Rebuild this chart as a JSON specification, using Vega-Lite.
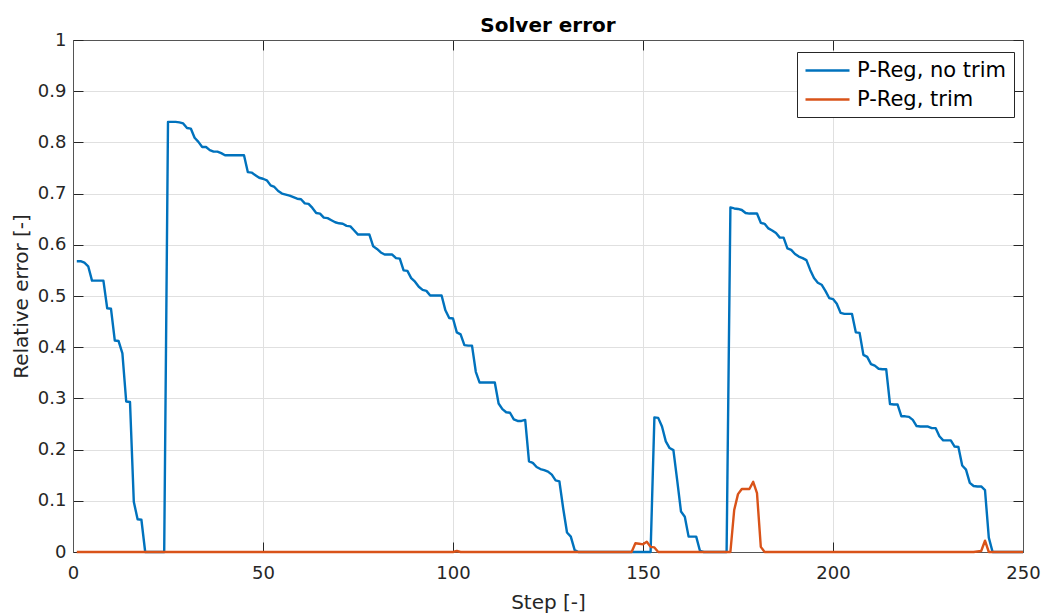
{
  "$schema": "https://vega.github.io/schema/vega-lite/v6.json",
  "width": 950,
  "height": 512,
  "autosize": "none",
  "padding": {"left": 73, "top": 40, "right": 18, "bottom": 61},
  "background": "white",
  "title": {
    "text": "Solver error",
    "font": "DejaVu Sans",
    "fontSize": 20,
    "fontWeight": "bold",
    "color": "#000000",
    "anchor": "middle",
    "frame": "group",
    "baseline": "alphabetic",
    "offset": 9,
    "dy": 30
  },
  "config": {
    "view": {"stroke": null},
    "axis": {
      "labelFont": "DejaVu Sans",
      "labelFontSize": 18,
      "labelColor": "#262626",
      "labelFlush": false,
      "titleFont": "DejaVu Sans",
      "titleFontSize": 20,
      "titleFontWeight": "normal",
      "titleColor": "#262626",
      "domainColor": "#555555",
      "domainWidth": 1,
      "tickColor": "#262626",
      "tickWidth": 1,
      "tickSize": -10,
      "gridColor": "#e0e0e0",
      "gridWidth": 1
    },
    "legend": {
      "orient": "none",
      "legendX": 724,
      "legendY": 12,
      "fillColor": "white",
      "strokeColor": "#262626",
      "padding": 7,
      "cornerRadius": 0,
      "symbolType": "M-1,0H3.4",
      "symbolSize": 400,
      "symbolStrokeWidth": 2.4,
      "labelFont": "DejaVu Sans",
      "labelFontSize": 21,
      "labelColor": "#000000",
      "labelOffset": 30,
      "rowPadding": 7,
      "labelLimit": 400
    }
  },
  "datasets": {
    "noTrim": [
      {"step": 1, "error": 0.568}, {"step": 2, "error": 0.568}, {"step": 3, "error": 0.565}, {"step": 4, "error": 0.558}, {"step": 5, "error": 0.53},
      {"step": 6, "error": 0.53}, {"step": 7, "error": 0.53}, {"step": 8, "error": 0.53}, {"step": 9, "error": 0.476}, {"step": 10, "error": 0.475},
      {"step": 11, "error": 0.413}, {"step": 12, "error": 0.412}, {"step": 13, "error": 0.388}, {"step": 14, "error": 0.294}, {"step": 15, "error": 0.293},
      {"step": 16, "error": 0.098}, {"step": 17, "error": 0.064}, {"step": 18, "error": 0.063}, {"step": 19, "error": 0}, {"step": 20, "error": 0},
      {"step": 21, "error": 0}, {"step": 22, "error": 0}, {"step": 23, "error": 0}, {"step": 24, "error": 0}, {"step": 25, "error": 0.84},
      {"step": 26, "error": 0.84}, {"step": 27, "error": 0.84}, {"step": 28, "error": 0.839}, {"step": 29, "error": 0.837}, {"step": 30, "error": 0.828},
      {"step": 31, "error": 0.827}, {"step": 32, "error": 0.809}, {"step": 33, "error": 0.801}, {"step": 34, "error": 0.791}, {"step": 35, "error": 0.791},
      {"step": 36, "error": 0.785}, {"step": 37, "error": 0.782}, {"step": 38, "error": 0.782}, {"step": 39, "error": 0.779}, {"step": 40, "error": 0.775},
      {"step": 41, "error": 0.775}, {"step": 42, "error": 0.775}, {"step": 43, "error": 0.775}, {"step": 44, "error": 0.775}, {"step": 45, "error": 0.775},
      {"step": 46, "error": 0.742}, {"step": 47, "error": 0.741}, {"step": 48, "error": 0.736}, {"step": 49, "error": 0.731}, {"step": 50, "error": 0.729},
      {"step": 51, "error": 0.726}, {"step": 52, "error": 0.716}, {"step": 53, "error": 0.713}, {"step": 54, "error": 0.705}, {"step": 55, "error": 0.7},
      {"step": 56, "error": 0.698}, {"step": 57, "error": 0.696}, {"step": 58, "error": 0.693}, {"step": 59, "error": 0.69}, {"step": 60, "error": 0.689},
      {"step": 61, "error": 0.681}, {"step": 62, "error": 0.68}, {"step": 63, "error": 0.672}, {"step": 64, "error": 0.662}, {"step": 65, "error": 0.661},
      {"step": 66, "error": 0.653}, {"step": 67, "error": 0.652}, {"step": 68, "error": 0.648}, {"step": 69, "error": 0.644}, {"step": 70, "error": 0.642},
      {"step": 71, "error": 0.641}, {"step": 72, "error": 0.637}, {"step": 73, "error": 0.636}, {"step": 74, "error": 0.628}, {"step": 75, "error": 0.62},
      {"step": 76, "error": 0.62}, {"step": 77, "error": 0.62}, {"step": 78, "error": 0.62}, {"step": 79, "error": 0.597}, {"step": 80, "error": 0.592},
      {"step": 81, "error": 0.585}, {"step": 82, "error": 0.581}, {"step": 83, "error": 0.581}, {"step": 84, "error": 0.581}, {"step": 85, "error": 0.574},
      {"step": 86, "error": 0.573}, {"step": 87, "error": 0.55}, {"step": 88, "error": 0.549}, {"step": 89, "error": 0.535}, {"step": 90, "error": 0.528},
      {"step": 91, "error": 0.518}, {"step": 92, "error": 0.512}, {"step": 93, "error": 0.51}, {"step": 94, "error": 0.501}, {"step": 95, "error": 0.501},
      {"step": 96, "error": 0.501}, {"step": 97, "error": 0.501}, {"step": 98, "error": 0.472}, {"step": 99, "error": 0.457}, {"step": 100, "error": 0.456},
      {"step": 101, "error": 0.429}, {"step": 102, "error": 0.425}, {"step": 103, "error": 0.404}, {"step": 104, "error": 0.403}, {"step": 105, "error": 0.403},
      {"step": 106, "error": 0.352}, {"step": 107, "error": 0.331}, {"step": 108, "error": 0.331}, {"step": 109, "error": 0.331}, {"step": 110, "error": 0.331},
      {"step": 111, "error": 0.331}, {"step": 112, "error": 0.29}, {"step": 113, "error": 0.279}, {"step": 114, "error": 0.273}, {"step": 115, "error": 0.272},
      {"step": 116, "error": 0.259}, {"step": 117, "error": 0.256}, {"step": 118, "error": 0.256}, {"step": 119, "error": 0.258}, {"step": 120, "error": 0.177},
      {"step": 121, "error": 0.174}, {"step": 122, "error": 0.166}, {"step": 123, "error": 0.162}, {"step": 124, "error": 0.16}, {"step": 125, "error": 0.157},
      {"step": 126, "error": 0.151}, {"step": 127, "error": 0.14}, {"step": 128, "error": 0.138}, {"step": 129, "error": 0.085}, {"step": 130, "error": 0.038},
      {"step": 131, "error": 0.03}, {"step": 132, "error": 0.004}, {"step": 133, "error": 0}, {"step": 134, "error": 0}, {"step": 135, "error": 0},
      {"step": 136, "error": 0}, {"step": 137, "error": 0}, {"step": 138, "error": 0}, {"step": 139, "error": 0}, {"step": 140, "error": 0},
      {"step": 141, "error": 0}, {"step": 142, "error": 0}, {"step": 143, "error": 0}, {"step": 144, "error": 0}, {"step": 145, "error": 0},
      {"step": 146, "error": 0}, {"step": 147, "error": 0}, {"step": 148, "error": 0}, {"step": 149, "error": 0}, {"step": 150, "error": 0},
      {"step": 151, "error": 0}, {"step": 152, "error": 0}, {"step": 153, "error": 0.263}, {"step": 154, "error": 0.262}, {"step": 155, "error": 0.245},
      {"step": 156, "error": 0.216}, {"step": 157, "error": 0.203}, {"step": 158, "error": 0.199}, {"step": 159, "error": 0.14}, {"step": 160, "error": 0.079},
      {"step": 161, "error": 0.069}, {"step": 162, "error": 0.03}, {"step": 163, "error": 0.03}, {"step": 164, "error": 0.03}, {"step": 165, "error": 0.002},
      {"step": 166, "error": 0}, {"step": 167, "error": 0}, {"step": 168, "error": 0}, {"step": 169, "error": 0}, {"step": 170, "error": 0},
      {"step": 171, "error": 0}, {"step": 172, "error": 0}, {"step": 173, "error": 0.673}, {"step": 174, "error": 0.671}, {"step": 175, "error": 0.67},
      {"step": 176, "error": 0.668}, {"step": 177, "error": 0.662}, {"step": 178, "error": 0.661}, {"step": 179, "error": 0.661}, {"step": 180, "error": 0.661},
      {"step": 181, "error": 0.643}, {"step": 182, "error": 0.641}, {"step": 183, "error": 0.632}, {"step": 184, "error": 0.628}, {"step": 185, "error": 0.623},
      {"step": 186, "error": 0.614}, {"step": 187, "error": 0.614}, {"step": 188, "error": 0.593}, {"step": 189, "error": 0.59}, {"step": 190, "error": 0.582},
      {"step": 191, "error": 0.577}, {"step": 192, "error": 0.574}, {"step": 193, "error": 0.57}, {"step": 194, "error": 0.551}, {"step": 195, "error": 0.535},
      {"step": 196, "error": 0.526}, {"step": 197, "error": 0.522}, {"step": 198, "error": 0.51}, {"step": 199, "error": 0.496}, {"step": 200, "error": 0.494},
      {"step": 201, "error": 0.485}, {"step": 202, "error": 0.467}, {"step": 203, "error": 0.465}, {"step": 204, "error": 0.465}, {"step": 205, "error": 0.465},
      {"step": 206, "error": 0.429}, {"step": 207, "error": 0.428}, {"step": 208, "error": 0.385}, {"step": 209, "error": 0.381}, {"step": 210, "error": 0.367},
      {"step": 211, "error": 0.364}, {"step": 212, "error": 0.358}, {"step": 213, "error": 0.357}, {"step": 214, "error": 0.357}, {"step": 215, "error": 0.289},
      {"step": 216, "error": 0.288}, {"step": 217, "error": 0.288}, {"step": 218, "error": 0.265}, {"step": 219, "error": 0.265}, {"step": 220, "error": 0.264},
      {"step": 221, "error": 0.258}, {"step": 222, "error": 0.246}, {"step": 223, "error": 0.245}, {"step": 224, "error": 0.245}, {"step": 225, "error": 0.245},
      {"step": 226, "error": 0.242}, {"step": 227, "error": 0.242}, {"step": 228, "error": 0.226}, {"step": 229, "error": 0.218}, {"step": 230, "error": 0.218},
      {"step": 231, "error": 0.218}, {"step": 232, "error": 0.206}, {"step": 233, "error": 0.205}, {"step": 234, "error": 0.169}, {"step": 235, "error": 0.161},
      {"step": 236, "error": 0.135}, {"step": 237, "error": 0.129}, {"step": 238, "error": 0.128}, {"step": 239, "error": 0.128}, {"step": 240, "error": 0.121},
      {"step": 241, "error": 0.028}, {"step": 242, "error": 0}, {"step": 243, "error": 0}, {"step": 244, "error": 0}, {"step": 245, "error": 0},
      {"step": 246, "error": 0}, {"step": 247, "error": 0}, {"step": 248, "error": 0}, {"step": 249, "error": 0}, {"step": 250, "error": 0}
    ],
    "trim": [
      {"step": 1, "error": 0}, {"step": 2, "error": 0}, {"step": 3, "error": 0}, {"step": 4, "error": 0}, {"step": 5, "error": 0},
      {"step": 6, "error": 0}, {"step": 7, "error": 0}, {"step": 8, "error": 0}, {"step": 9, "error": 0}, {"step": 10, "error": 0},
      {"step": 11, "error": 0}, {"step": 12, "error": 0}, {"step": 13, "error": 0}, {"step": 14, "error": 0}, {"step": 15, "error": 0},
      {"step": 16, "error": 0}, {"step": 17, "error": 0}, {"step": 18, "error": 0}, {"step": 19, "error": 0}, {"step": 20, "error": 0},
      {"step": 21, "error": 0}, {"step": 22, "error": 0}, {"step": 23, "error": 0}, {"step": 24, "error": 0}, {"step": 25, "error": 0},
      {"step": 26, "error": 0}, {"step": 27, "error": 0}, {"step": 28, "error": 0}, {"step": 29, "error": 0}, {"step": 30, "error": 0},
      {"step": 31, "error": 0}, {"step": 32, "error": 0}, {"step": 33, "error": 0}, {"step": 34, "error": 0}, {"step": 35, "error": 0},
      {"step": 36, "error": 0}, {"step": 37, "error": 0}, {"step": 38, "error": 0}, {"step": 39, "error": 0}, {"step": 40, "error": 0},
      {"step": 41, "error": 0}, {"step": 42, "error": 0}, {"step": 43, "error": 0}, {"step": 44, "error": 0}, {"step": 45, "error": 0},
      {"step": 46, "error": 0}, {"step": 47, "error": 0}, {"step": 48, "error": 0}, {"step": 49, "error": 0}, {"step": 50, "error": 0},
      {"step": 51, "error": 0}, {"step": 52, "error": 0}, {"step": 53, "error": 0}, {"step": 54, "error": 0}, {"step": 55, "error": 0},
      {"step": 56, "error": 0}, {"step": 57, "error": 0}, {"step": 58, "error": 0}, {"step": 59, "error": 0}, {"step": 60, "error": 0},
      {"step": 61, "error": 0}, {"step": 62, "error": 0}, {"step": 63, "error": 0}, {"step": 64, "error": 0}, {"step": 65, "error": 0},
      {"step": 66, "error": 0}, {"step": 67, "error": 0}, {"step": 68, "error": 0}, {"step": 69, "error": 0}, {"step": 70, "error": 0},
      {"step": 71, "error": 0}, {"step": 72, "error": 0}, {"step": 73, "error": 0}, {"step": 74, "error": 0}, {"step": 75, "error": 0},
      {"step": 76, "error": 0}, {"step": 77, "error": 0}, {"step": 78, "error": 0}, {"step": 79, "error": 0}, {"step": 80, "error": 0},
      {"step": 81, "error": 0}, {"step": 82, "error": 0}, {"step": 83, "error": 0}, {"step": 84, "error": 0}, {"step": 85, "error": 0},
      {"step": 86, "error": 0}, {"step": 87, "error": 0}, {"step": 88, "error": 0}, {"step": 89, "error": 0}, {"step": 90, "error": 0},
      {"step": 91, "error": 0}, {"step": 92, "error": 0}, {"step": 93, "error": 0}, {"step": 94, "error": 0}, {"step": 95, "error": 0},
      {"step": 96, "error": 0}, {"step": 97, "error": 0}, {"step": 98, "error": 0}, {"step": 99, "error": 0}, {"step": 100, "error": 0},
      {"step": 101, "error": 0.002}, {"step": 102, "error": 0}, {"step": 103, "error": 0}, {"step": 104, "error": 0}, {"step": 105, "error": 0},
      {"step": 106, "error": 0}, {"step": 107, "error": 0}, {"step": 108, "error": 0}, {"step": 109, "error": 0}, {"step": 110, "error": 0},
      {"step": 111, "error": 0}, {"step": 112, "error": 0}, {"step": 113, "error": 0}, {"step": 114, "error": 0}, {"step": 115, "error": 0},
      {"step": 116, "error": 0}, {"step": 117, "error": 0}, {"step": 118, "error": 0}, {"step": 119, "error": 0}, {"step": 120, "error": 0},
      {"step": 121, "error": 0}, {"step": 122, "error": 0}, {"step": 123, "error": 0}, {"step": 124, "error": 0}, {"step": 125, "error": 0},
      {"step": 126, "error": 0}, {"step": 127, "error": 0}, {"step": 128, "error": 0}, {"step": 129, "error": 0}, {"step": 130, "error": 0},
      {"step": 131, "error": 0}, {"step": 132, "error": 0}, {"step": 133, "error": 0}, {"step": 134, "error": 0}, {"step": 135, "error": 0},
      {"step": 136, "error": 0}, {"step": 137, "error": 0}, {"step": 138, "error": 0}, {"step": 139, "error": 0}, {"step": 140, "error": 0},
      {"step": 141, "error": 0}, {"step": 142, "error": 0}, {"step": 143, "error": 0}, {"step": 144, "error": 0}, {"step": 145, "error": 0},
      {"step": 146, "error": 0}, {"step": 147, "error": 0}, {"step": 148, "error": 0.017}, {"step": 149, "error": 0.016}, {"step": 150, "error": 0.015},
      {"step": 151, "error": 0.02}, {"step": 152, "error": 0.01}, {"step": 153, "error": 0.009}, {"step": 154, "error": 0}, {"step": 155, "error": 0},
      {"step": 156, "error": 0}, {"step": 157, "error": 0}, {"step": 158, "error": 0}, {"step": 159, "error": 0}, {"step": 160, "error": 0},
      {"step": 161, "error": 0}, {"step": 162, "error": 0}, {"step": 163, "error": 0}, {"step": 164, "error": 0}, {"step": 165, "error": 0},
      {"step": 166, "error": 0}, {"step": 167, "error": 0}, {"step": 168, "error": 0}, {"step": 169, "error": 0}, {"step": 170, "error": 0},
      {"step": 171, "error": 0}, {"step": 172, "error": 0}, {"step": 173, "error": 0}, {"step": 174, "error": 0.082}, {"step": 175, "error": 0.113},
      {"step": 176, "error": 0.123}, {"step": 177, "error": 0.123}, {"step": 178, "error": 0.123}, {"step": 179, "error": 0.137}, {"step": 180, "error": 0.115},
      {"step": 181, "error": 0.01}, {"step": 182, "error": 0}, {"step": 183, "error": 0}, {"step": 184, "error": 0}, {"step": 185, "error": 0},
      {"step": 186, "error": 0}, {"step": 187, "error": 0}, {"step": 188, "error": 0}, {"step": 189, "error": 0}, {"step": 190, "error": 0},
      {"step": 191, "error": 0}, {"step": 192, "error": 0}, {"step": 193, "error": 0}, {"step": 194, "error": 0}, {"step": 195, "error": 0},
      {"step": 196, "error": 0}, {"step": 197, "error": 0}, {"step": 198, "error": 0}, {"step": 199, "error": 0}, {"step": 200, "error": 0},
      {"step": 201, "error": 0}, {"step": 202, "error": 0}, {"step": 203, "error": 0}, {"step": 204, "error": 0}, {"step": 205, "error": 0},
      {"step": 206, "error": 0}, {"step": 207, "error": 0}, {"step": 208, "error": 0}, {"step": 209, "error": 0}, {"step": 210, "error": 0},
      {"step": 211, "error": 0}, {"step": 212, "error": 0}, {"step": 213, "error": 0}, {"step": 214, "error": 0}, {"step": 215, "error": 0},
      {"step": 216, "error": 0}, {"step": 217, "error": 0}, {"step": 218, "error": 0}, {"step": 219, "error": 0}, {"step": 220, "error": 0},
      {"step": 221, "error": 0}, {"step": 222, "error": 0}, {"step": 223, "error": 0}, {"step": 224, "error": 0}, {"step": 225, "error": 0},
      {"step": 226, "error": 0}, {"step": 227, "error": 0}, {"step": 228, "error": 0}, {"step": 229, "error": 0}, {"step": 230, "error": 0},
      {"step": 231, "error": 0}, {"step": 232, "error": 0}, {"step": 233, "error": 0}, {"step": 234, "error": 0}, {"step": 235, "error": 0},
      {"step": 236, "error": 0}, {"step": 237, "error": 0}, {"step": 238, "error": 0.001}, {"step": 239, "error": 0.002}, {"step": 240, "error": 0.022},
      {"step": 241, "error": 0}, {"step": 242, "error": 0}, {"step": 243, "error": 0}, {"step": 244, "error": 0}, {"step": 245, "error": 0},
      {"step": 246, "error": 0}, {"step": 247, "error": 0}, {"step": 248, "error": 0}, {"step": 249, "error": 0}, {"step": 250, "error": 0}
    ]
  },
  "layer": [
    {
      "data": {"name": "noTrim"},
      "mark": {"type": "line", "strokeWidth": 2.4, "strokeJoin": "round"},
      "encoding": {
        "x": {
          "field": "step", "type": "quantitative",
          "scale": {"domain": [0, 250], "nice": false, "zero": false},
          "axis": {
            "orient": "bottom",
            "title": "Step [-]",
            "values": [0, 50, 100, 150, 200, 250],
            "grid": true,
            "labelPadding": 22,
            "titleX": 475,
            "titleY": 56,
            "titleAnchor": null,
            "titleBaseline": "alphabetic"
          }
        },
        "y": {
          "field": "error", "type": "quantitative",
          "scale": {"domain": [0, 1], "nice": false},
          "axis": {
            "orient": "left",
            "title": "Relative error [-]",
            "values": [0, 0.1, 0.2, 0.3, 0.4, 0.5, 0.6, 0.7, 0.8, 0.9, 1],
            "format": "~g",
            "grid": true,
            "labelPadding": 17,
            "titleX": -46,
            "titleY": 256,
            "titleAnchor": null,
            "titleBaseline": "alphabetic"
          }
        },
        "color": {
          "datum": "P-Reg, no trim",
          "scale": {"domain": ["P-Reg, no trim", "P-Reg, trim"], "range": ["#0072BD", "#D95319"]},
          "legend": {"title": null}
        }
      }
    },
    {
      "data": {"name": "trim"},
      "mark": {"type": "line", "strokeWidth": 2.4, "strokeJoin": "round"},
      "encoding": {
        "x": {"field": "step", "type": "quantitative", "scale": {"domain": [0, 250], "nice": false, "zero": false}, "axis": null},
        "y": {"field": "error", "type": "quantitative", "scale": {"domain": [0, 1], "nice": false}, "axis": null},
        "color": {"datum": "P-Reg, trim"}
      }
    },
    {
      "data": {"name": "noTrim"},
      "mark": {"type": "line", "opacity": 0},
      "encoding": {
        "x": {
          "field": "step", "type": "quantitative",
          "scale": {"domain": [0, 250], "nice": false, "zero": false},
          "axis": {"orient": "top", "title": null, "labels": false, "grid": false, "values": [0, 50, 100, 150, 200, 250]}
        },
        "y": {
          "field": "error", "type": "quantitative",
          "scale": {"domain": [0, 1], "nice": false},
          "axis": {"orient": "right", "title": null, "labels": false, "grid": false, "values": [0, 0.1, 0.2, 0.3, 0.4, 0.5, 0.6, 0.7, 0.8, 0.9, 1]}
        }
      }
    }
  ],
  "resolve": {"axis": {"x": "independent", "y": "independent"}}
}
